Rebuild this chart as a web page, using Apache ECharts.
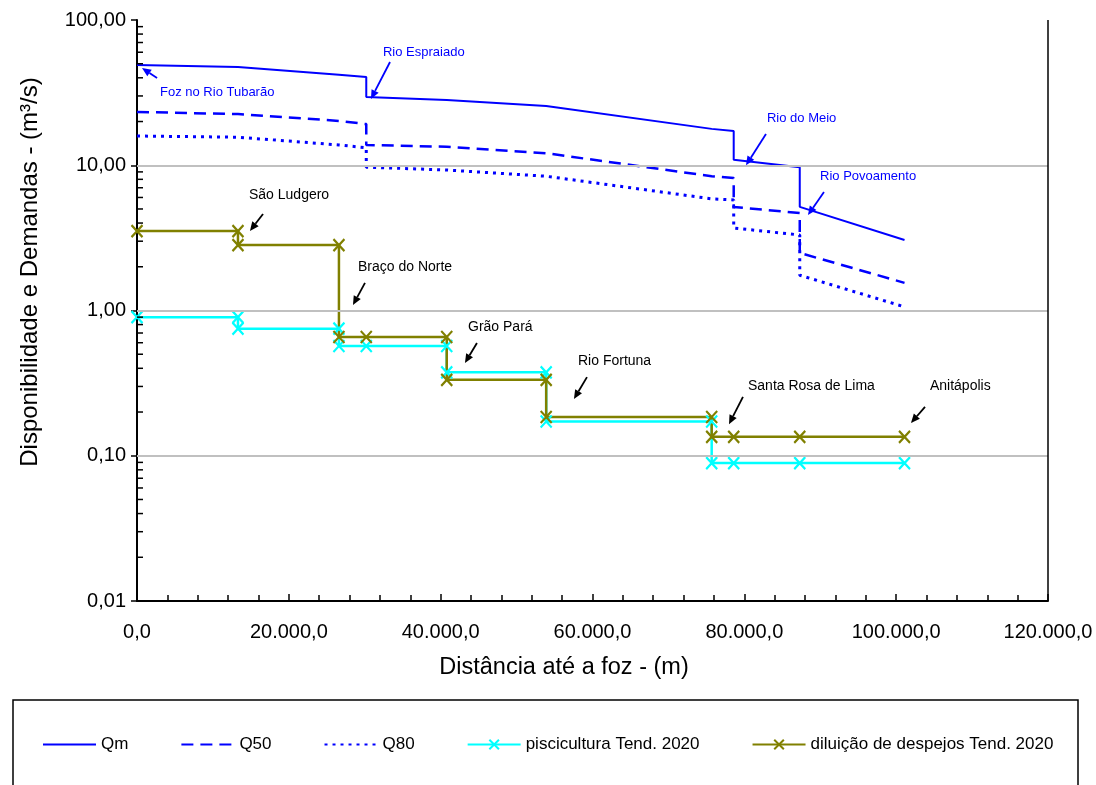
<!DOCTYPE html>
<html>
<head>
<meta charset="utf-8">
<script src="https://cdn.jsdelivr.net/npm/echarts@6/dist/echarts.min.js"></script>
<style>
  html, body { margin: 0; padding: 0; background: #fff; }
  #chart { width: 1096px; height: 785px; }
</style>
</head>
<body>
<div id="chart"></div>
<script>
// Discharges along the main stem (m³/s) vs distance from the mouth (m).
// A repeated distance marks the step where a tributary joins.
const qm = [[0, 49], [13300, 47.5], [26600, 42], [30200, 40.5], [30200, 29.5], [40800, 28.1],
  [53900, 25.6], [75700, 17.8], [78600, 17.2], [78600, 10.9], [87300, 9.7], [87300, 5.17], [101100, 3.06]];
const q50 = [[0, 23.3], [13300, 22.5], [26600, 20.2], [30200, 19.2], [30200, 13.8], [40800, 13.4],
  [53900, 12.1], [75700, 8.4], [78600, 8.16], [78600, 5.16], [87300, 4.69], [87300, 2.49], [101100, 1.55]];
const q80 = [[0, 15.9], [13300, 15.6], [26600, 13.8], [30200, 13.2], [30200, 9.7], [40800, 9.27],
  [53900, 8.4], [75700, 5.87], [78600, 5.77], [78600, 3.70], [87300, 3.31], [87300, 1.75], [101100, 1.06]];

// Demands, scenario 2020
const piscicultura = [[0, 0.90], [13300, 0.90], [13300, 0.75], [26600, 0.75], [26600, 0.57], [30200, 0.57],
  [40800, 0.57], [40800, 0.375], [53900, 0.375], [53900, 0.172], [75700, 0.172], [75700, 0.089],
  [78600, 0.089], [87300, 0.089], [101100, 0.089]];
const diluicao = [[0, 3.52], [13300, 3.52], [13300, 2.82], [26600, 2.82], [26600, 0.657], [30200, 0.657],
  [40800, 0.657], [40800, 0.333], [53900, 0.333], [53900, 0.185], [75700, 0.185], [75700, 0.135],
  [78600, 0.135], [87300, 0.135], [101100, 0.135]];

const seriesNames = ['Qm', 'Q50', 'Q80', 'piscicultura Tend. 2020', 'diluição de despejos Tend. 2020'];

// Axis ticks and their labels
const xTicks = [0, 20000, 40000, 60000, 80000, 100000, 120000];
const xTickLabels = ['0,0', '20.000,0', '40.000,0', '60.000,0', '80.000,0', '100.000,0', '120.000,0'];
const yTicks = [0.01, 0.1, 1, 10, 100];
const yTickLabels = ['0,01', '0,10', '1,00', '10,00', '100,00'];
const gridValues = [0.1, 1, 10];

// Place names: text anchor, arrow start and arrow tip, in data units
const placeNotes = [
  { text: 'Foz no Rio Tubarão', at: [3030, 31.9], from: [2640, 39.9], to: [660, 46.7], blue: true },
  { text: 'Rio Espraiado', at: [32400, 60.2], from: [33330, 51.4], to: [30820, 28.6], blue: true },
  { text: 'Rio do Meio', at: [82980, 21.1], from: [82850, 16.4], to: [80220, 10.0], blue: true },
  { text: 'Rio Povoamento', at: [89970, 8.43], from: [90490, 6.54], to: [88380, 4.54], blue: true },
  { text: 'São Ludgero', at: [14750, 6.24], from: [16600, 4.62], to: [14880, 3.53] },
  { text: 'Braço do Norte', at: [29110, 1.99], from: [30030, 1.55], to: [28450, 1.09] },
  { text: 'Grão Pará', at: [43600, 0.770], from: [44780, 0.597], to: [43200, 0.435] },
  { text: 'Rio Fortuna', at: [58090, 0.449], from: [59270, 0.348], to: [57560, 0.246] },
  { text: 'Santa Rosa de Lima', at: [80480, 0.302], from: [79820, 0.254], to: [77980, 0.165] },
  { text: 'Anitápolis', at: [104450, 0.302], from: [103800, 0.217], to: [101950, 0.168] }
];

const FONT = '"Liberation Sans", Arial, sans-serif';
const BLUE = '#0000ff';
const CYAN = '#00ffff';
const OLIVE = '#808000';
const CROSS = 'path://M0,0L10,10M10,0L0,10';

const chart = echarts.init(document.getElementById('chart'), null, { renderer: 'canvas' });

function qSeries(name, data, type, width) {
  return {
    name, type: 'line', data, symbol: 'none', showSymbol: false,
    lineStyle: { color: BLUE, width, type },
    itemStyle: { color: BLUE },
    animation: false, z: 3
  };
}
function demandSeries(name, data, color) {
  return {
    name, type: 'line', data, symbol: CROSS, symbolSize: [11, 12], showSymbol: true,
    lineStyle: { color, width: 2.5 },
    itemStyle: { color, borderColor: color, borderWidth: 2.2 },
    animation: false, z: 4
  };
}

const series = [
  qSeries(seriesNames[0], qm, 'solid', 2),
  qSeries(seriesNames[1], q50, [12, 7], 2.5),
  qSeries(seriesNames[2], q80, [3, 5], 3),
  demandSeries(seriesNames[3], piscicultura, CYAN),
  demandSeries(seriesNames[4], diluicao, OLIVE)
];
// Horizontal reference lines at each decade inside the plot
series[0].markLine = {
  silent: true, symbol: 'none', animation: false, label: { show: false },
  lineStyle: { color: '#c0c0c0', width: 2, type: 'solid' },
  data: gridValues.map(v => ({ yAxis: v }))
};

// Legend entries: the flow curves show only their line style
const legendData = seriesNames.map((name, i) => i < 3
  ? { name, itemStyle: { opacity: 0 } }
  : { name });

chart.setOption({
  backgroundColor: '#fff',
  animation: false,
  grid: { left: 137, right: 48, top: 20, bottom: 184, containLabel: false },
  xAxis: {
    type: 'value', min: 0, max: 120000, interval: 20000,
    axisLine: { show: true, onZero: false, lineStyle: { color: '#000', width: 2 } },
    axisTick: { show: true, inside: true, length: 7, lineStyle: { color: '#000', width: 1.5 } },
    minorTick: { show: true, splitNumber: 5, length: 6, lineStyle: { color: '#000', width: 1.5 } },
    splitLine: { show: false },
    axisLabel: {
      margin: 21, color: '#000', fontSize: 20, fontFamily: FONT,
      formatter: v => { const i = xTicks.indexOf(v); return i >= 0 ? xTickLabels[i] : ''; }
    }
  },
  yAxis: {
    type: 'log', logBase: 10, min: 0.01, max: 100,
    axisLine: { show: true, lineStyle: { color: '#000', width: 2 } },
    axisTick: { show: true, inside: false, length: 6, lineStyle: { color: '#000', width: 1.5 } },
    splitLine: { show: false },
    axisLabel: {
      margin: 11, color: '#000', fontSize: 20, fontFamily: FONT,
      formatter: v => {
        const i = yTicks.findIndex(t => Math.abs(t - v) / t < 1e-6);
        return i >= 0 ? yTickLabels[i] : '';
      }
    }
  },
  legend: {
    data: legendData, left: 42, top: 736, orient: 'horizontal', padding: 0,
    itemWidth: 53, itemHeight: 12, itemGap: 52,
    textStyle: { color: '#000', fontSize: 17, fontFamily: FONT }
  },
  series
});

// Decorations that depend on the axis scales: minor log ticks, place notes, titles and frames
function px(pt) { return chart.convertToPixel({ xAxisIndex: 0, yAxisIndex: 0 }, pt); }

const graphics = [];
const axisX = px([0, 1])[0];
const rightX = px([120000, 1])[0];
const topY = px([0, 100])[1];
const bottomY = px([0, 0.01])[1];

for (let k = -2; k < 2; k++) {
  for (let m = 2; m <= 9; m++) {
    const y = px([0, m * Math.pow(10, k)])[1];
    graphics.push({ type: 'line', shape: { x1: axisX, y1: y, x2: axisX + 6, y2: y },
      style: { stroke: '#000', lineWidth: 1.5 }, silent: true, z: 5 });
  }
}

// Right edge of the plot frame
graphics.push({ type: 'line', shape: { x1: rightX, y1: topY, x2: rightX, y2: bottomY },
  style: { stroke: '#000', lineWidth: 1.5 }, silent: true, z: 5 });

placeNotes.forEach(n => {
  const color = n.blue ? BLUE : '#000';
  const a = px(n.at), f = px(n.from), t = px(n.to);
  graphics.push({ type: 'text', x: a[0], y: a[1], silent: true, z: 6,
    style: { text: n.text, fill: color, font: (n.blue ? '13px ' : '14px ') + FONT,
      textAlign: 'left', textVerticalAlign: 'middle' } });
  const dx = t[0] - f[0], dy = t[1] - f[1];
  const len = Math.sqrt(dx * dx + dy * dy);
  const ux = dx / len, uy = dy / len;
  const head = 9, half = 4;
  const bx = t[0] - ux * head, by = t[1] - uy * head;
  graphics.push({ type: 'line', shape: { x1: f[0], y1: f[1], x2: bx, y2: by },
    style: { stroke: color, lineWidth: 1.8 }, silent: true, z: 6 });
  graphics.push({ type: 'polygon', silent: true, z: 6,
    shape: { points: [[t[0], t[1]], [bx - uy * half, by + ux * half], [bx + uy * half, by - ux * half]] },
    style: { fill: color } });
});

// Axis titles
graphics.push({ type: 'text', x: 564, y: 668, silent: true,
  style: { text: 'Distância até a foz - (m)', fill: '#000', font: '23.5px ' + FONT,
    textAlign: 'center', textVerticalAlign: 'middle' } });
graphics.push({ type: 'text', x: 30, y: 272, rotation: Math.PI / 2, silent: true,
  style: { text: 'Disponibilidade e Demandas - (m³/s)', fill: '#000', font: '24px ' + FONT,
    textAlign: 'center', textVerticalAlign: 'middle' } });

// Legend frame
graphics.push({ type: 'rect', silent: true, z: 0,
  shape: { x: 13, y: 700, width: 1065, height: 110 },
  style: { fill: 'none', stroke: '#000', lineWidth: 1.5 } });

chart.setOption({ graphic: graphics });
</script>
</body>
</html>
